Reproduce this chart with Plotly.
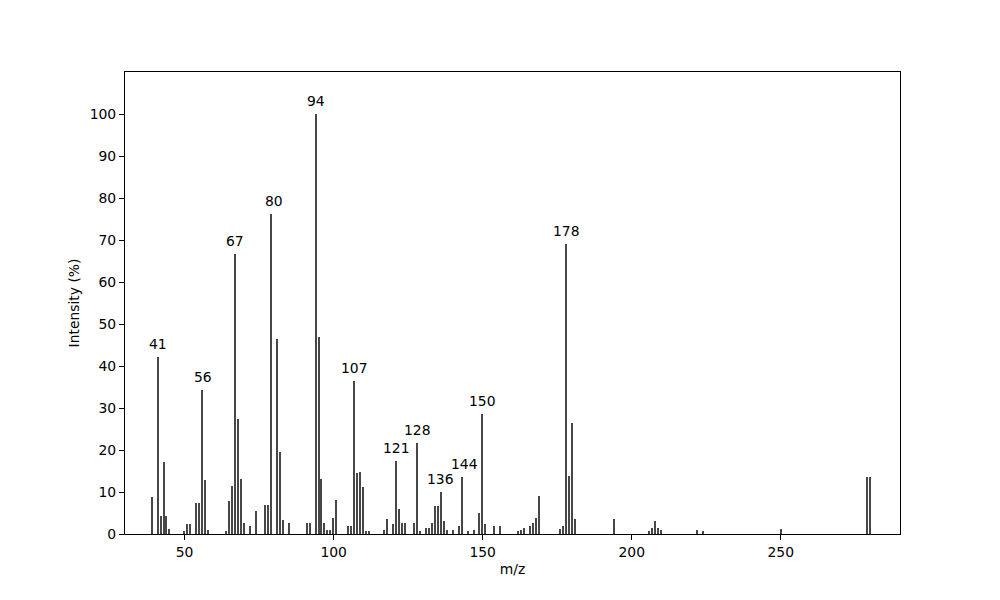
import plotly.graph_objects as go

# m/z values and relative intensities
mz = [39, 41, 42, 43, 44, 45, 50, 51, 52, 54, 55, 56, 57, 58,
      64, 65, 66, 67, 68, 69, 70, 72, 74, 77, 78, 79, 81, 82, 83, 85,
      91, 92, 94, 95, 96, 97, 98, 99, 100, 101, 105, 106, 107, 108, 109, 110, 111, 112,
      117, 118, 120, 121, 122, 123, 124, 127, 128, 129, 131, 132, 133, 134, 135, 136,
      137, 138, 140, 142, 143, 145, 147, 149, 150, 151, 154, 156,
      162, 163, 164, 166, 167, 168, 169, 176, 177, 178, 179, 180, 181,
      194, 206, 207, 208, 209, 210, 222, 224, 250, 279, 280]
intensity = [8.9, 42.2, 4.3, 17.1, 4.3, 1.2, 0.7, 2.4, 2.4, 7.4, 7.4, 34.3, 12.9, 0.95,
             0.7, 7.9, 11.5, 66.7, 27.4, 13.1, 2.7, 1.9, 5.5, 6.9, 6.9, 76.2, 46.4, 19.5, 3.3, 2.6,
             2.7, 2.7, 100, 47.0, 13.1, 2.7, 1.0, 1.0, 3.8, 8.1, 1.9, 1.9, 36.4, 14.5, 14.8, 11.2, 0.7, 0.7,
             1.0, 3.6, 2.4, 17.4, 5.9, 2.6, 2.6, 2.6, 21.7, 0.7, 1.4, 1.4, 2.6, 6.7, 6.7, 10.0,
             3.1, 1.0, 1.0, 1.9, 13.6, 0.7, 1.0, 5.0, 28.6, 2.4, 1.9, 1.9,
             0.7, 1.0, 1.4, 1.9, 2.6, 3.8, 9.0, 1.2, 1.9, 69.0, 13.8, 26.4, 3.6,
             3.6, 0.7, 1.4, 3.1, 1.4, 1.0, 1.0, 0.7, 1.2, 13.6, 13.6]

# labelled peaks
label_mz = [41, 56, 67, 80, 94, 107, 121, 128, 136, 144, 150, 178]

FONT = "DejaVu Sans"
fs = 13.9

fig = go.Figure()
fig.add_trace(go.Bar(x=mz, y=intensity, width=0.5,
                     marker=dict(color="#474747", line=dict(width=0))))

# label height = tallest bar within 1 unit of the label
for m in label_mz:
    h = max(v for x, v in zip(mz, intensity) if abs(x - m) <= 1)
    fig.add_annotation(x=m, y=h, text=str(m), showarrow=False,
                       yanchor="bottom", yshift=3,
                       font=dict(family=FONT, size=fs, color="black"))

# page body adds an 8px offset, margins compensate for it
fig.update_layout(
    width=1000, height=600,
    margin=dict(l=117, r=108, t=64, b=74),
    plot_bgcolor="white", paper_bgcolor="white",
    showlegend=False,
    bargap=0,
    font=dict(family=FONT, size=fs, color="black"),
)
fig.update_xaxes(range=[30, 290], tickvals=[50, 100, 150, 200, 250],
                 showline=True, linecolor="black", linewidth=1.1, mirror=True,
                 ticks="outside", ticklen=5, tickwidth=1.1, tickcolor="black",
                 showgrid=False, zeroline=False,
                 title=dict(text="m/z", standoff=5, font=dict(family=FONT, size=fs)))
fig.update_yaxes(range=[0, 110], tickvals=list(range(0, 101, 10)),
                 showline=True, linecolor="black", linewidth=1.1, mirror=True,
                 ticks="outside", ticklen=5, tickwidth=1.1, tickcolor="black",
                 showgrid=False, zeroline=False,
                 title=dict(text="Intensity (%)", standoff=6, font=dict(family=FONT, size=fs)))

fig.write_html("out.html")
